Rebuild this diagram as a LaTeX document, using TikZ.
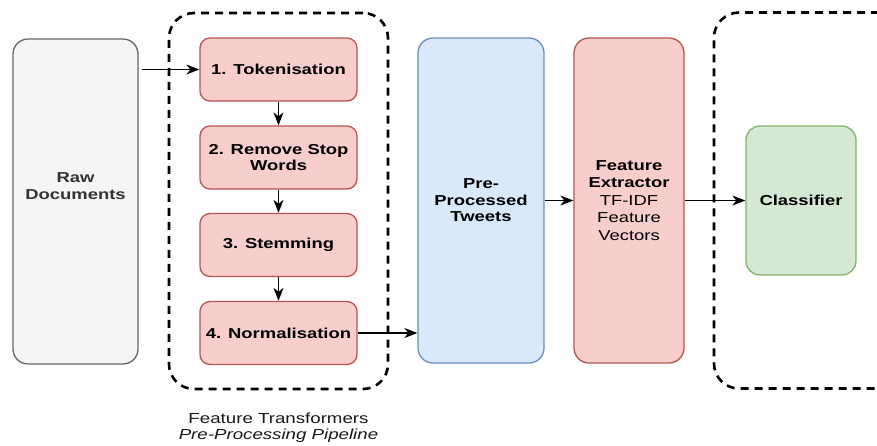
\documentclass[tikz,border=0pt]{standalone}
\usepackage{fontspec}
\setmainfont{Liberation Sans}[FakeStretch=1.28]
\usetikzlibrary{arrows.meta}

\definecolor{rawfill}{HTML}{F5F5F5}
\definecolor{rawline}{HTML}{666666}
\definecolor{rawtext}{HTML}{333333}
\definecolor{redfill}{HTML}{F8CECC}
\definecolor{redline}{HTML}{B85450}
\definecolor{bluefill}{HTML}{DAE8FC}
\definecolor{blueline}{HTML}{6C8EBF}
\definecolor{greenfill}{HTML}{D5E8D4}
\definecolor{greenline}{HTML}{82B366}

\tikzset{
  box/.style={rectangle, inner sep=0pt, line width=1.3pt, align=center,
    font=\fontsize{14.4}{16.5}\selectfont\bfseries},
  rawbox/.style={box, fill=rawfill, draw=rawline, rounded corners=15pt},
  stepbox/.style={box, fill=redfill, draw=redline, rounded corners=10pt,
    minimum width=157pt, minimum height=63pt},
  tallred/.style={box, fill=redfill, draw=redline, rounded corners=15pt},
  tallblue/.style={box, fill=bluefill, draw=blueline, rounded corners=15pt},
  greenbox/.style={box, fill=greenfill, draw=greenline, rounded corners=14pt},
  groupbox/.style={rectangle, draw=black, line width=2.6pt,
    dash pattern=on 8pt off 6pt, rounded corners=25pt, inner sep=0pt},
  conn/.style={draw=black, line width=1.3pt,
    -{Stealth[length=13pt,width=10pt,inset=4pt]}},
  captiontext/.style={align=center, inner sep=0pt,
    font=\fontsize{14.6}{16.5}\selectfont, text=black!90},
}
\newcommand{\plainline}[1]{{\mdseries #1}}

\begin{document}
\begin{tikzpicture}[x=1pt,y=-1pt]
  \clip (0,0) rectangle (877,445);
  \fill[white] (0,0) rectangle (877,445);

  % dashed grouping frames
  \node[groupbox, minimum width=219pt, minimum height=376pt] (pipeline) at (278.5,201) {};
  \node[groupbox, minimum width=190pt, minimum height=376pt] (model) at (809,200.5) {};

  % input documents
  \node[rawbox, minimum width=125pt, minimum height=325pt] (raw) at (75.5,201.5) {};
  \node[box, text=rawtext] (rawlabel) at (75.5,186) {Raw\\Documents};

  % pre-processing steps
  \node[stepbox] (tok)  at (278.5,69.5)  {1. Tokenisation};
  \node[stepbox] (stop) at (278.5,157.5) {2. Remove Stop\\Words};
  \node[stepbox] (stem) at (278.5,245)   {3. Stemming};
  \node[stepbox] (norm) at (278.5,333)   {4. Normalisation};

  % later stages
  \node[tallblue, minimum width=126pt, minimum height=325pt] (pre) at (481,200.5)
    {Pre-\\Processed\\Tweets};
  \node[tallred, minimum width=110pt, minimum height=325pt,
        font=\fontsize{14.4}{17.5}\selectfont\bfseries] (feat) at (629,200.5)
    {Feature\\Extractor\\\plainline{TF-IDF}\\\plainline{Feature}\\\plainline{Vectors}};
  \node[greenbox, minimum width=110pt, minimum height=149pt] (clf) at (801,200.5)
    {Classifier};

  % caption under the pipeline frame
  \node[captiontext] (caption) at (278.5,427.5)
    {Feature Transformers\\\textit{Pre-Processing Pipeline}};

  % connectors
  \draw[conn] ([xshift=3pt]raw.east |- tok.west) -- (tok.west);
  \draw[conn] (tok.south) -- (stop.north);
  \draw[conn] (stop.south) -- (stem.north);
  \draw[conn] (stem.south) -- (norm.north);
  \draw[conn] (norm.east) -- (norm.east -| pre.west);
  \draw[conn] (pre.east) -- (feat.west);
  \draw[conn] (feat.east) -- (clf.west);
\end{tikzpicture}
\end{document}
